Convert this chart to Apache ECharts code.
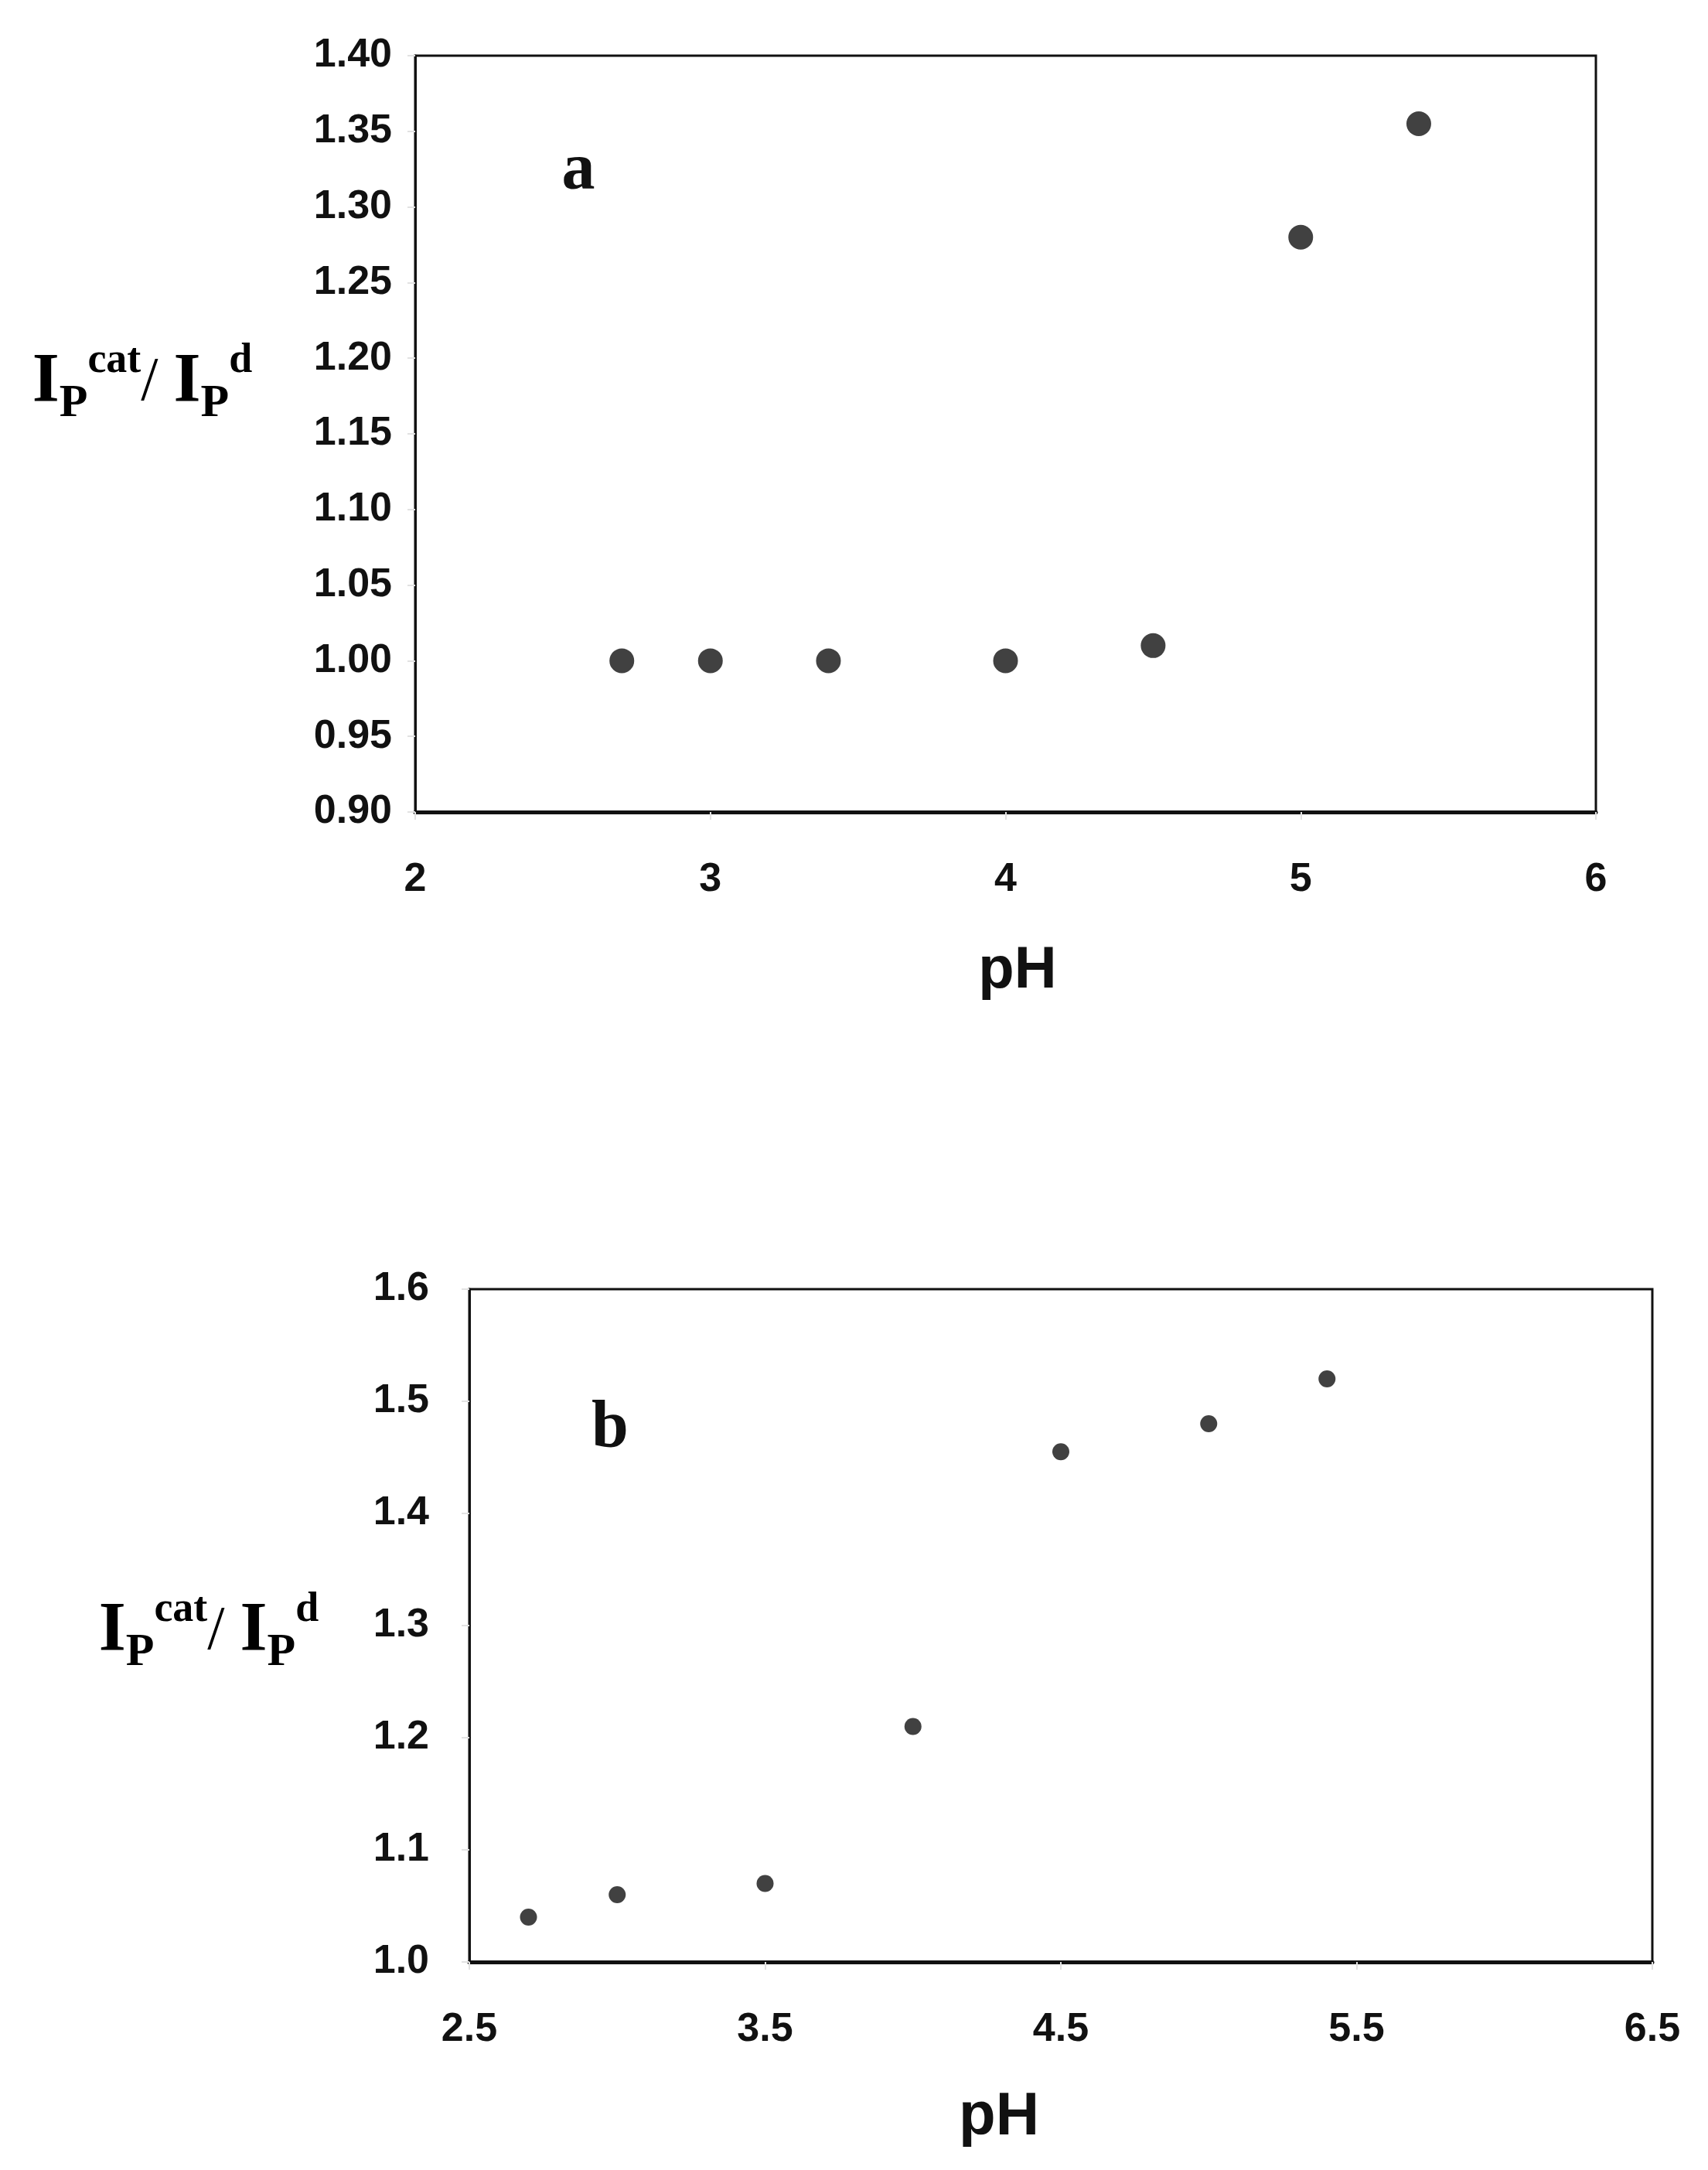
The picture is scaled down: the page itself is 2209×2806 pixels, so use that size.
<!DOCTYPE html>
<html>
<head>
<meta charset="utf-8">
<script src="https://cdn.jsdelivr.net/npm/echarts@6/dist/echarts.min.js"></script>
<style>
html,body{margin:0;padding:0;background:#fff;}
#main{width:2209px;height:2806px;}
</style>
</head>
<body>
<div id="main"></div>
<script>
// panel a
var phA = [2.7, 3.0, 3.4, 4.0, 4.5, 5.0, 5.4];
var ratioA = [1.00, 1.00, 1.00, 1.00, 1.01, 1.28, 1.355];
var xTicksA = [2, 3, 4, 5, 6];
var yTicksA = [0.90, 0.95, 1.00, 1.05, 1.10, 1.15, 1.20, 1.25, 1.30, 1.35, 1.40];
// panel b
var phB = [2.7, 3.0, 3.5, 4.0, 4.5, 5.0, 5.4];
var ratioB = [1.04, 1.06, 1.07, 1.21, 1.455, 1.48, 1.52];
var xTicksB = [2.5, 3.5, 4.5, 5.5, 6.5];
var yTicksB = [1.0, 1.1, 1.2, 1.3, 1.4, 1.5, 1.6];

function pairs(xs, ys){
	var out = [];
	for(var i=0;i<xs.length;i++){
		out.push([xs[i], ys[i]]);
	}
	return out;
}

var SANS = '"Liberation Sans", Arial, sans-serif';
var SERIF = '"Liberation Serif", "Times New Roman", serif';

function tickLabel(ticks, dec, margin){
	return {
		customValues:ticks,
		margin:margin,
		fontFamily:SANS,
		fontWeight:'bold',
		fontSize:52,
		color:'#111',
		formatter:function(v){ return v.toFixed(dec); }
	};
}
function axisOf(idx, ticks, dec, margin, lineW){
	return {
		type:'value',
		gridIndex:idx,
		min:ticks[0],
		max:ticks[ticks.length-1],
		axisLine:{show:true, onZero:false, lineStyle:{color:'#111', width:lineW}},
		axisTick:{show:true, customValues:ticks, length:10, lineStyle:{color:'#e2e2e2', width:2}},
		axisLabel:tickLabel(ticks, dec, margin),
		splitLine:{show:false}
	};
}

var yLabelRich = {
	I:{fontFamily:SERIF, fontWeight:'bold', fontSize:90, lineHeight:112, verticalAlign:'middle', color:'#111'},
	s:{fontFamily:SERIF, fontWeight:'bold', fontSize:60, lineHeight:70, verticalAlign:'bottom', color:'#111'},
	u:{fontFamily:SERIF, fontWeight:'bold', fontSize:54, lineHeight:54, verticalAlign:'top', color:'#111'},
	sl:{fontFamily:SERIF, fontSize:80, lineHeight:112, verticalAlign:'middle', color:'#111'}
};
var yLabelText = '{I|I}{s|P}{u|cat}{sl|/ }{I|I}{s|P}{u|d}';

function label(text, x, y, font, size){
	return {
		type:'text',
		x:x, y:y,
		style:{
			text:text,
			align:'center',
			verticalAlign:'middle',
			fontFamily:font,
			fontSize:size,
			fontWeight:'bold',
			fill:'#111'
		}
	};
}

var chart = echarts.init(document.getElementById('main'), null, {renderer:'canvas'});
var option = {
	backgroundColor:'#fff',
	animation:false,
	grid:[
		{left:537, top:72, width:1527, height:978, show:true, borderColor:'#111', borderWidth:3, backgroundColor:'transparent'},
		{left:607, top:1667, width:1530, height:870, show:true, borderColor:'#111', borderWidth:3, backgroundColor:'transparent'}
	],
	xAxis:[
		axisOf(0, xTicksA, 0, 62, 5),
		axisOf(1, xTicksB, 1, 62, 5)
	],
	yAxis:[
		axisOf(0, yTicksA, 2, 30, 3),
		axisOf(1, yTicksB, 1, 52, 3)
	],
	series:[
		{
			type:'scatter',
			xAxisIndex:0, yAxisIndex:0,
			data:pairs(phA, ratioA),
			symbol:'circle',
			symbolSize:32,
			itemStyle:{color:'#111'}
		},
		{
			type:'scatter',
			xAxisIndex:1, yAxisIndex:1,
			data:pairs(phB, ratioB),
			symbol:'circle',
			symbolSize:22,
			itemStyle:{color:'#111'}
		}
	],
	graphic:[
		{type:'text', x:184, y:496, style:{text:yLabelText, rich:yLabelRich, align:'center', verticalAlign:'middle'}},
		{type:'text', x:270, y:2111, style:{text:yLabelText, rich:yLabelRich, align:'center', verticalAlign:'middle'}},
		label('a', 748, 222, SERIF, 86),
		label('b', 789, 1848, SERIF, 86),
		label('pH', 1316, 1256, SANS, 76),
		label('pH', 1292, 2738, SANS, 78)
	]
};
chart.setOption(option);
</script>
</body>
</html>
